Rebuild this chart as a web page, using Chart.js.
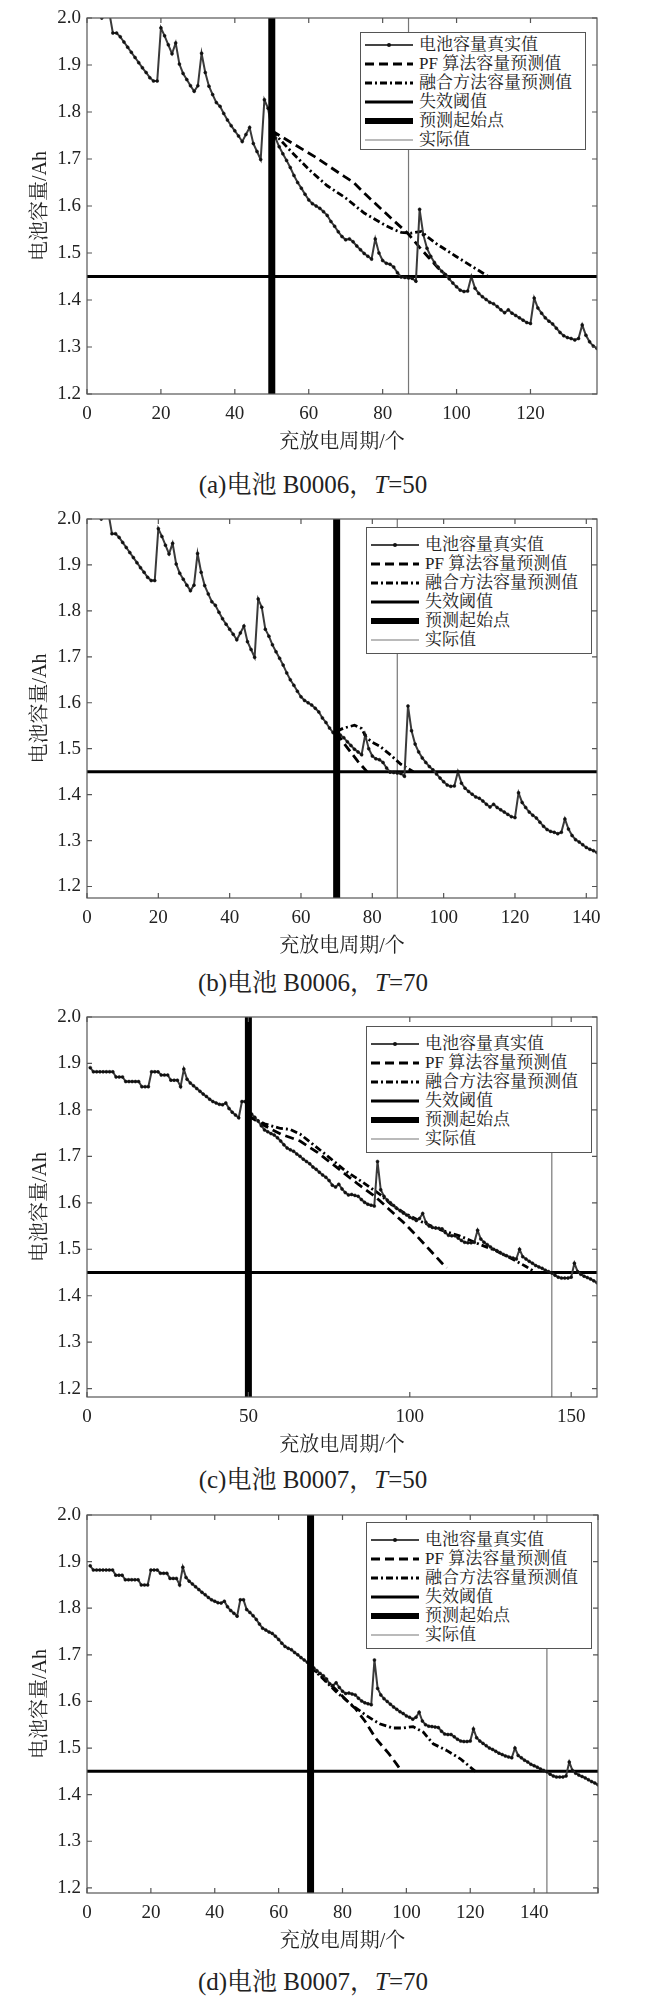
<!DOCTYPE html>
<html>
<head>
<meta charset="utf-8">
<script src="https://cdn.jsdelivr.net/npm/chart.js@4.4.1/dist/chart.umd.min.js"></script>
<style>
  html, body { margin: 0; padding: 0; background: #fff; }
  body { width: 648px; height: 2009px; position: relative; overflow: hidden;
         font-family: 'Liberation Serif', 'Noto Serif CJK SC', 'Noto Sans CJK SC', serif; color: #222; }
  .panel { position: absolute; left: 0; width: 648px; }
  .panel canvas { position: absolute; left: 0; top: 0; }
  .legend { position: absolute; border: 1.5px solid #555; background: #fff; box-sizing: border-box; }
  .legend .row { height: 19px; display: flex; align-items: center; font-size: 17px; line-height: 19px; white-space: nowrap; }
  .legend svg { flex: none; margin-left: 4px; margin-right: 6px; }
  .caption { position: absolute; left: 313px; transform: translateX(-50%); font-size: 25px; line-height: 30px; white-space: nowrap; }
</style>
</head>
<body>
<script>
// capacity (Ah) of battery B0006, cycles 1..143
const b0006Cap = [
  2.035, 2.025, 2.013, 2.000, 2.014, 2.013, 1.968, 1.968, 1.960, 1.949,
  1.938, 1.927, 1.916, 1.905, 1.894, 1.884, 1.873, 1.866, 1.866, 1.979,
  1.962, 1.943, 1.924, 1.947, 1.902, 1.882, 1.869, 1.856, 1.844, 1.856,
  1.925, 1.884, 1.855, 1.837, 1.820, 1.812, 1.797, 1.783, 1.771, 1.760,
  1.749, 1.737, 1.752, 1.767, 1.733, 1.716, 1.699, 1.826, 1.808, 1.760,
  1.745, 1.726, 1.711, 1.697, 1.682, 1.665, 1.650, 1.638, 1.625, 1.613,
  1.605, 1.600, 1.595, 1.588, 1.580, 1.567, 1.557, 1.545, 1.535, 1.528,
  1.530, 1.524, 1.515, 1.507, 1.499, 1.493, 1.487, 1.530, 1.500, 1.484,
  1.478, 1.476, 1.470, 1.458, 1.449, 1.448, 1.447, 1.446, 1.440, 1.593,
  1.539, 1.510, 1.493, 1.480, 1.470, 1.461, 1.454, 1.445, 1.436, 1.428,
  1.421, 1.418, 1.419, 1.450, 1.425, 1.414, 1.407, 1.401, 1.395, 1.392,
  1.386, 1.379, 1.373, 1.379, 1.372, 1.367, 1.362, 1.357, 1.352, 1.350,
  1.404, 1.383, 1.372, 1.362, 1.355, 1.349, 1.340, 1.331, 1.324, 1.320,
  1.318, 1.315, 1.318, 1.347, 1.325, 1.311, 1.302, 1.297, 1.291, 1.285,
  1.281, 1.278, 1.274
];

// capacity (Ah) of battery B0007, cycles 1..160
const b0007Cap = [
  1.891, 1.882, 1.882, 1.882, 1.882, 1.882, 1.882, 1.882, 1.871, 1.871,
  1.871, 1.861, 1.861, 1.861, 1.861, 1.861, 1.850, 1.850, 1.850, 1.882,
  1.882, 1.882, 1.875, 1.875, 1.875, 1.864, 1.864, 1.864, 1.850, 1.888,
  1.866, 1.858, 1.852, 1.846, 1.840, 1.834, 1.829, 1.823, 1.818, 1.815,
  1.812, 1.811, 1.815, 1.803, 1.795, 1.789, 1.783, 1.818, 1.818, 1.797,
  1.791, 1.784, 1.776, 1.766, 1.757, 1.753, 1.749, 1.746, 1.740, 1.733,
  1.725, 1.718, 1.714, 1.711, 1.705, 1.700, 1.694, 1.689, 1.684, 1.677,
  1.672, 1.666, 1.660, 1.655, 1.648, 1.638, 1.634, 1.640, 1.630, 1.622,
  1.617, 1.618, 1.616, 1.614, 1.607, 1.601, 1.597, 1.595, 1.593, 1.689,
  1.628, 1.614, 1.606, 1.600, 1.594, 1.588, 1.583, 1.578, 1.574, 1.569,
  1.566, 1.562, 1.566, 1.577, 1.558, 1.550, 1.547, 1.546, 1.545, 1.544,
  1.536, 1.530, 1.529, 1.529, 1.524, 1.519, 1.515, 1.514, 1.514, 1.515,
  1.541, 1.522, 1.515, 1.510, 1.505, 1.500, 1.497, 1.493, 1.489, 1.486,
  1.483, 1.481, 1.479, 1.500, 1.484, 1.479, 1.474, 1.470, 1.465, 1.462,
  1.459, 1.455, 1.452, 1.449, 1.444, 1.440, 1.438, 1.438, 1.438, 1.440,
  1.470, 1.452, 1.446, 1.442, 1.439, 1.436, 1.432, 1.428, 1.425, 1.421
];

const failThreshold = 1.45;

// (a) B0006, T=50
const pfCycA  = [50, 54, 61.6, 69.6, 72, 76, 82.7, 86.8, 90, 92.5, 95, 97.5];
const pfCapA  = [1.760, 1.741, 1.705, 1.663, 1.651, 1.620, 1.571, 1.542, 1.512, 1.490, 1.468, 1.450];
const fuCycA  = [50, 55, 60, 65, 70, 75, 80, 83, 85, 87.5, 90.5, 92, 94.5, 100, 104.5, 108.6];
const fuCapA  = [1.760, 1.718, 1.678, 1.643, 1.617, 1.585, 1.562, 1.550, 1.544, 1.542, 1.546, 1.535, 1.520, 1.492, 1.470, 1.450];

// (b) B0006, T=70
const pfCycB  = [70, 72, 74, 76, 78.5];
const pfCapB  = [1.535, 1.512, 1.492, 1.472, 1.450];
const fuCycB  = [70, 72, 75, 77, 78.3, 80, 82, 85, 88, 91.5];
const fuCapB  = [1.538, 1.545, 1.551, 1.544, 1.524, 1.514, 1.506, 1.487, 1.466, 1.450];

// (c) B0007, T=50
const pfCycC  = [50, 55, 60, 66, 71.5, 76.7, 84, 89, 93, 98, 102, 106, 110, 111.5];
const pfCapC  = [1.787, 1.766, 1.748, 1.733, 1.708, 1.680, 1.640, 1.615, 1.590, 1.558, 1.530, 1.500, 1.470, 1.460];
const fuCycC  = [50, 55, 60, 63, 66, 70, 75, 80, 85.5, 90.6, 94.7, 98.8, 104, 109, 115.4, 121.5, 126.7, 131.8, 136, 139];
const fuCapC  = [1.787, 1.770, 1.760, 1.758, 1.748, 1.726, 1.698, 1.669, 1.644, 1.619, 1.594, 1.576, 1.558, 1.543, 1.529, 1.511, 1.497, 1.479, 1.463, 1.450];

// (d) B0007, T=70
const pfCycD  = [70, 74, 78, 82, 84, 87, 90.5, 94.5, 97, 98.5];
const pfCapD  = [1.675, 1.650, 1.625, 1.597, 1.585, 1.558, 1.520, 1.488, 1.465, 1.450];
const fuCycD  = [70, 74, 78, 83.2, 87.4, 91.6, 95.8, 99, 102.1, 105.3, 108.4, 112.6, 116.9, 121.6];
const fuCapD  = [1.675, 1.648, 1.621, 1.591, 1.570, 1.552, 1.543, 1.543, 1.546, 1.534, 1.509, 1.495, 1.477, 1.450];

const panelTags     = ['a', 'b', 'c', 'd'];
const batteryNames  = ['B0006', 'B0006', 'B0007', 'B0007'];
const startCycles   = [50, 70, 50, 70];
const actualCycles  = [87, 87, 144, 144];
const xMaxes        = [138, 143, 158, 160];
const yMins         = [1.2, 1.175, 1.182, 1.189];
const xSteps        = [20, 20, 50, 20];

const legendLabels = ['电池容量真实值', 'PF 算法容量预测值', '融合方法容量预测值', '失效阈值', '预测起始点', '实际值'];

// page layout (px)
const layout = [
  { top: 0,    padTop: 18, plotH: 376, padRight: 51, capY: 470,  leg: { l: 360, t: 32,   w: 226, h: 118, pt: 2 } },
  { top: 500,  padTop: 19, plotH: 379, padRight: 51, capY: 968,  leg: { l: 366, t: 527,  w: 226, h: 127, pt: 7 } },
  { top: 998,  padTop: 19, plotH: 380, padRight: 51, capY: 1465, leg: { l: 366, t: 1026, w: 226, h: 127, pt: 7 } },
  { top: 1497, padTop: 18, plotH: 378, padRight: 50, capY: 1967, leg: { l: 366, t: 1522, w: 226, h: 127, pt: 7 } }
];

const FONT = "'Liberation Serif', 'Noto Serif CJK SC', 'Noto Sans CJK SC', serif";
Chart.defaults.font.family = FONT;
Chart.defaults.color = '#222';

// box round the plot and MATLAB style inner ticks on all four sides
const framePlugin = {
  id: 'frame',
  afterDraw(chart) {
    const { ctx, chartArea: a, scales: { x, y } } = chart;
    ctx.save();
    ctx.strokeStyle = '#555';
    ctx.lineWidth = 1.2;
    ctx.strokeRect(a.left, a.top, a.right - a.left, a.bottom - a.top);
    ctx.beginPath();
    x.ticks.forEach(t => {
      const px = x.getPixelForValue(t.value);
      ctx.moveTo(px, a.bottom); ctx.lineTo(px, a.bottom - 5);
      ctx.moveTo(px, a.top);    ctx.lineTo(px, a.top + 5);
    });
    y.ticks.forEach(t => {
      const py = y.getPixelForValue(t.value);
      ctx.moveTo(a.left, py);  ctx.lineTo(a.left + 5, py);
      ctx.moveTo(a.right, py); ctx.lineTo(a.right - 5, py);
    });
    ctx.stroke();
    ctx.restore();
  }
};

const toPts = (xs, ys) => xs.map((x, i) => ({ x, y: ys[i] }));
const capPts = cap => cap.map((v, i) => ({ x: i + 1, y: v }));

const predictions = [
  [toPts(pfCycA, pfCapA), toPts(fuCycA, fuCapA)],
  [toPts(pfCycB, pfCapB), toPts(fuCycB, fuCapB)],
  [toPts(pfCycC, pfCapC), toPts(fuCycC, fuCapC)],
  [toPts(pfCycD, pfCapD), toPts(fuCycD, fuCapD)]
];

function legendSample(i) {
  const w = 48, h = 10, m = h / 2;
  const styles = [
    `<line x1="0" y1="${m}" x2="${w}" y2="${m}" stroke="#444" stroke-width="1.8"/><circle cx="${w / 2}" cy="${m}" r="2" fill="#111"/>`,
    `<line x1="0" y1="${m}" x2="${w}" y2="${m}" stroke="#000" stroke-width="3" stroke-dasharray="9 5"/>`,
    `<line x1="0" y1="${m}" x2="${w}" y2="${m}" stroke="#000" stroke-width="3" stroke-dasharray="7 3 2 3"/>`,
    `<line x1="0" y1="${m}" x2="${w}" y2="${m}" stroke="#000" stroke-width="3"/>`,
    `<line x1="0" y1="${m}" x2="${w}" y2="${m}" stroke="#000" stroke-width="6"/>`,
    `<line x1="0" y1="${m}" x2="${w}" y2="${m}" stroke="#777" stroke-width="1.2"/>`
  ];
  return `<svg width="${w}" height="${h}">${styles[i]}</svg>`;
}

panelTags.forEach((tag, p) => {
  const L = layout[p];
  const H = L.padTop + L.plotH + 62;
  const panel = document.createElement('div');
  panel.className = 'panel';
  panel.style.top = L.top + 'px';
  panel.style.height = H + 'px';
  const canvas = document.createElement('canvas');
  canvas.width = 648; canvas.height = H;
  panel.appendChild(canvas);
  document.body.appendChild(panel);

  const xMax = xMaxes[p], yMin = yMins[p], yMax = 2.0;
  const cap = p < 2 ? b0006Cap : b0007Cap;
  const [pf, fu] = predictions[p];

  new Chart(canvas, {
    type: 'line',
    data: {
      datasets: [
        { label: legendLabels[4], data: [{ x: startCycles[p], y: yMin }, { x: startCycles[p], y: yMax }],
          borderColor: '#000', borderWidth: 7, pointRadius: 0, order: 0 },
        { label: legendLabels[0], data: capPts(cap), borderColor: '#3a3a3a', borderWidth: 2,
          pointRadius: 1.5, pointBackgroundColor: '#111', pointBorderColor: '#111', pointBorderWidth: 0.5, order: 1 },
        { label: legendLabels[1], data: pf, borderColor: '#000', borderWidth: 2.8, borderDash: [9, 5], pointRadius: 0, order: 2 },
        { label: legendLabels[2], data: fu, borderColor: '#000', borderWidth: 2.8, borderDash: [7, 3, 2, 3], pointRadius: 0, order: 3 },
        { label: legendLabels[3], data: [{ x: 0, y: failThreshold }, { x: xMax, y: failThreshold }],
          borderColor: '#000', borderWidth: 3, pointRadius: 0, order: 4 },
        { label: legendLabels[5], data: [{ x: actualCycles[p], y: yMin }, { x: actualCycles[p], y: yMax }],
          borderColor: '#777', borderWidth: 1.2, pointRadius: 0, order: 5 }
      ]
    },
    options: {
      responsive: false,
      animation: false,
      events: [],
      layout: { padding: { top: L.padTop, right: L.padRight, bottom: 0, left: 0 } },
      plugins: { legend: { display: false }, tooltip: { enabled: false } },
      elements: { line: { tension: 0, borderCapStyle: 'butt' } },
      scales: {
        x: {
          type: 'linear', min: 0, max: xMax,
          grid: { display: false, drawTicks: false },
          border: { display: false },
          ticks: { stepSize: xSteps[p], includeBounds: false, padding: 9, font: { size: 19 }, color: '#222',
                   callback: v => (v >= 160 ? '' : v) },
          title: { display: true, text: '充放电周期/个', font: { size: 20 }, color: '#222', padding: { top: 0, bottom: 1 } },
          afterFit: s => { s.height = 62; }
        },
        y: {
          type: 'linear', min: yMin, max: yMax,
          grid: { display: false, drawTicks: false },
          border: { display: false },
          ticks: { stepSize: 0.1, includeBounds: false, padding: 6, font: { size: 19 }, color: '#222',
                   callback: v => v.toFixed(1) },
          title: { display: true, text: '电池容量/Ah', font: { size: 20 }, color: '#222', padding: { top: 29, bottom: 0 } },
          afterFit: s => { s.width = 87; }
        }
      }
    },
    plugins: [framePlugin]
  });

  const leg = document.createElement('div');
  leg.className = 'legend';
  leg.style.cssText = `left:${L.leg.l}px;top:${L.leg.t}px;width:${L.leg.w}px;height:${L.leg.h}px;padding-top:${L.leg.pt}px;`;
  leg.innerHTML = legendLabels.map((t, i) => `<div class="row">${legendSample(i)}<span>${t}</span></div>`).join('');
  document.body.appendChild(leg);

  const cap2 = document.createElement('div');
  cap2.className = 'caption';
  cap2.style.top = L.capY + 'px';
  cap2.innerHTML = `(${tag})电池 ${batteryNames[p]}，<i>T</i>=${startCycles[p]}`;
  document.body.appendChild(cap2);
});
</script>
</body>
</html>
